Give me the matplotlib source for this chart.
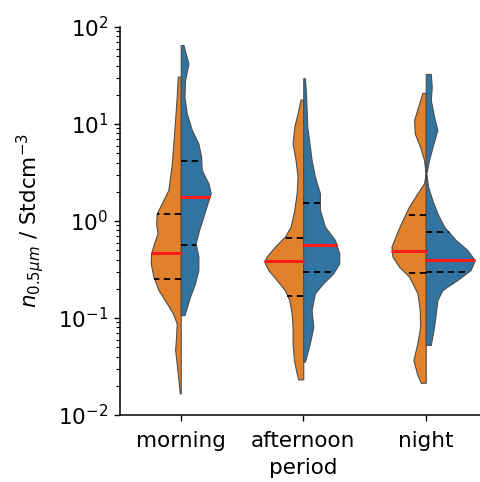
import numpy as np
import matplotlib
matplotlib.use("Agg")
import matplotlib.pyplot as plt

periods = ["morning", "afternoon", "night"]

# violin outlines: concentration (Stdcm^-3) and half width (x units)
morning_left_y = [30.8, 19.1, 8.7, 3.9, 2.09, 1.52, 1.20, 0.946, 0.746, 0.589, 0.464, 0.366,
                  0.267, 0.194, 0.142, 0.112, 0.088, 0.064, 0.047, 0.034, 0.023, 0.0167]
morning_left_w = [0.024, 0.033, 0.052, 0.073, 0.101, 0.155, 0.196, 0.201, 0.190, 0.218, 0.242, 0.245,
                  0.223, 0.182, 0.114, 0.065, 0.033, 0.038, 0.046, 0.033, 0.019, 0.008]
morning_right_y = [65.2, 42.2, 28.4, 19.1, 12.9, 8.7, 6.3, 4.6, 3.36, 2.44, 1.93, 1.52, 1.11,
                   0.81, 0.589, 0.43, 0.313, 0.228, 0.166, 0.107]
morning_right_w = [0.022, 0.063, 0.035, 0.030, 0.049, 0.090, 0.144, 0.166, 0.171, 0.226, 0.245,
                   0.218, 0.185, 0.150, 0.122, 0.144, 0.144, 0.117, 0.076, 0.030]

afternoon_left_y = [17.9, 12.9, 9.4, 6.3, 4.26, 2.87, 1.93, 1.30, 0.875, 0.689, 0.544, 0.43, 0.381,
                    0.313, 0.247, 0.194, 0.153, 0.112, 0.081, 0.055, 0.037, 0.027, 0.0233]
afternoon_left_w = [0.022, 0.046, 0.073, 0.087, 0.063, 0.046, 0.054, 0.073, 0.103, 0.150, 0.231,
                    0.299, 0.318, 0.286, 0.218, 0.150, 0.114, 0.095, 0.087, 0.087, 0.076, 0.054, 0.041]
afternoon_right_y = [29.6, 20.7, 9.4, 4.26, 2.87, 1.93, 1.30, 0.875, 0.637, 0.464, 0.366, 0.289,
                     0.228, 0.180, 0.121, 0.081, 0.055, 0.0355]
afternoon_right_w = [0.014, 0.022, 0.033, 0.068, 0.095, 0.136, 0.136, 0.177, 0.259, 0.294, 0.294,
                     0.245, 0.163, 0.095, 0.068, 0.082, 0.054, 0.014]

night_left_y = [21.0, 16.3, 11.0, 8.0, 5.8, 4.26, 3.10, 2.44, 1.93, 1.41, 1.02, 0.746, 0.544, 0.43,
                0.338, 0.267, 0.180, 0.121, 0.081, 0.055, 0.037, 0.027, 0.0215]
night_left_w = [0.027, 0.054, 0.095, 0.090, 0.046, 0.014, 0.001, 0.014, 0.068, 0.136, 0.190, 0.237,
                0.280, 0.272, 0.218, 0.136, 0.068, 0.049, 0.046, 0.068, 0.101, 0.073, 0.041]
night_right_y = [32.8, 24.2, 17.7, 11.9, 8.7, 6.3, 4.26, 3.10, 2.26, 1.64, 1.20, 0.875, 0.637,
                 0.502, 0.396, 0.313, 0.247, 0.194, 0.153, 0.112, 0.081, 0.0527]
night_right_w = [0.041, 0.049, 0.041, 0.068, 0.095, 0.063, 0.027, 0.005, 0.019, 0.054, 0.095, 0.150,
                 0.245, 0.340, 0.400, 0.367, 0.259, 0.136, 0.095, 0.082, 0.068, 0.041]

# quartiles and median (q1, median, q3)
left_stats = [[0.25, 0.47, 1.18], [0.17, 0.387, 0.67], [0.289, 0.494, 1.15]]
right_stats = [[0.56, 1.75, 4.19], [0.30, 0.566, 1.55], [0.30, 0.396, 0.77]]

left_color = "#e1812c"
right_color = "#3274a1"
edge = "#4d4d4d"

left_shapes = [(morning_left_y, morning_left_w), (afternoon_left_y, afternoon_left_w),
               (night_left_y, night_left_w)]
right_shapes = [(morning_right_y, morning_right_w), (afternoon_right_y, afternoon_right_w),
                (night_right_y, night_right_w)]

fig = plt.figure(figsize=(4.8, 4.82), dpi=100)
ax = fig.add_axes([119.5 / 480, 67 / 482, 367.5 / 480, 388 / 482])
ax.set_yscale("log")


def width_at(ys, ws, v):
    ly = np.log10(ys)[::-1]
    return np.interp(np.log10(v), ly, np.asarray(ws)[::-1])


for i in range(len(periods)):
    for side, shapes, stats, col in ((-1, left_shapes, left_stats, left_color),
                                     (1, right_shapes, right_stats, right_color)):
        ys, ws = shapes[i]
        ys = np.asarray(ys)
        ws = np.asarray(ws)
        ax.fill_betweenx(ys, i, i + side * ws, facecolor=col, edgecolor=edge,
                         linewidth=0.8, zorder=2)
        q1, med, q3 = stats[i]
        for q in (q1, q3):
            w = width_at(ys, ws, q)
            ax.plot([i, i + side * w], [q, q], color="black", lw=1.3,
                    ls=(0, (3.5, 2.5)), zorder=3)
        w = width_at(ys, ws, med)
        ax.plot([i - side * 0.01, i + side * (w + 0.005)], [med, med], color="#ff1a1a",
                lw=2.2, zorder=4, solid_capstyle="butt")

ax.set_xlim(-0.5, 2.5)
ax.set_ylim(1e-2, 1e2)
ax.set_xticks(range(len(periods)))
ax.set_xticklabels(periods)
ax.set_xlabel("period", fontsize=15.5, labelpad=5)
ax.set_ylabel(r"$n_{0.5 \mu m}$ / Stdcm$^{-3}$", fontsize=15.5, labelpad=9)
ax.tick_params(axis="both", labelsize=15.5, width=1.0, length=4.5)
ax.tick_params(axis="x", pad=7)
ax.tick_params(axis="y", which="minor", width=0.8, length=2.6)
for s in ("top", "right"):
    ax.spines[s].set_visible(False)
for s in ("left", "bottom"):
    ax.spines[s].set_linewidth(1.1)

fig.savefig("out.png", dpi=100)
